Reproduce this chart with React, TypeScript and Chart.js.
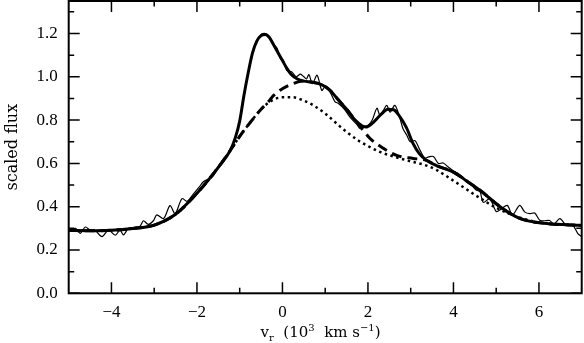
import React, { useEffect, useRef } from "react";
import { Chart, registerables } from "chart.js";

Chart.register(...registerables);

// ---- data ----
const obsX = [-5.0, -4.92, -4.84, -4.73, -4.61, -4.5, -4.38, -4.22, -4.07, -3.91, -3.8, -3.72, -3.6, -3.45, -3.33, -3.25, -3.14, -3.02, -2.94, -2.78, -2.63, -2.51, -2.35, -2.23, -2.1, -1.95, -1.85, -1.7, -1.61, -1.5, -1.4, -1.3, -1.2, -1.1, -1.0, -0.9, -0.8, -0.7, -0.6, -0.5, -0.4, -0.3, -0.2, -0.12, -0.05, 0.02, 0.1, 0.22, 0.32, 0.42, 0.5, 0.56, 0.62, 0.7, 0.81, 0.92, 1.0, 1.1, 1.23, 1.31, 1.45, 1.58, 1.74, 1.82, 1.9, 2.0, 2.1, 2.21, 2.28, 2.36, 2.44, 2.52, 2.63, 2.75, 2.82, 2.91, 2.99, 3.1, 3.22, 3.33, 3.42, 3.53, 3.65, 3.76, 3.88, 4.0, 4.1, 4.23, 4.31, 4.42, 4.54, 4.62, 4.7, 4.85, 5.0, 5.12, 5.26, 5.38, 5.55, 5.67, 5.79, 5.9, 6.02, 6.12, 6.25, 6.35, 6.49, 6.64, 6.78, 6.91, 7.0];
const obsY = [0.285, 0.295, 0.3, 0.277, 0.306, 0.292, 0.29, 0.262, 0.292, 0.268, 0.292, 0.27, 0.3, 0.305, 0.31, 0.335, 0.318, 0.335, 0.362, 0.345, 0.405, 0.368, 0.437, 0.425, 0.455, 0.49, 0.515, 0.53, 0.545, 0.585, 0.615, 0.64, 0.665, 0.72, 0.8, 0.915, 1.02, 1.11, 1.165, 1.195, 1.2, 1.185, 1.15, 1.13, 1.085, 1.076, 1.03, 1.022, 1.0, 1.012, 1.0, 0.99, 1.01, 0.968, 1.007, 0.937, 0.955, 0.935, 0.884, 0.877, 0.85, 0.814, 0.78, 0.76, 0.77, 0.775, 0.8, 0.855, 0.822, 0.845, 0.868, 0.837, 0.868, 0.807, 0.76, 0.73, 0.7, 0.705, 0.66, 0.625, 0.63, 0.632, 0.6, 0.602, 0.583, 0.565, 0.555, 0.535, 0.514, 0.5, 0.476, 0.47, 0.42, 0.437, 0.378, 0.39, 0.406, 0.362, 0.406, 0.375, 0.368, 0.371, 0.337, 0.335, 0.336, 0.32, 0.345, 0.314, 0.318, 0.276, 0.262];

const fitX = [-5, -4.5, -4, -3.5, -3, -2.5, -2, -1.5, -1.22, -1.1, -1.0, -0.9, -0.8, -0.7, -0.6, -0.5, -0.4, -0.3, -0.2, -0.1, 0, 0.1, 0.2, 0.35, 0.5, 0.7, 0.9, 1.1, 1.3, 1.5, 1.7, 1.85, 1.95, 2.1, 2.3, 2.47, 2.6, 2.75, 2.9, 3.06, 3.2, 3.37, 3.6, 4.0, 4.3, 4.62, 5.09, 5.55, 6.18, 7];
const fitY = [0.29, 0.289, 0.291, 0.299, 0.315, 0.365, 0.462, 0.582, 0.66, 0.72, 0.795, 0.915, 1.02, 1.11, 1.165, 1.19, 1.195, 1.18, 1.145, 1.11, 1.075, 1.04, 1.012, 0.99, 0.98, 0.975, 0.965, 0.94, 0.895, 0.85, 0.8, 0.775, 0.768, 0.785, 0.825, 0.85, 0.848, 0.815, 0.765, 0.69, 0.645, 0.614, 0.59, 0.56, 0.52, 0.476, 0.4, 0.346, 0.322, 0.314];

const dashX = [-5, -4.5, -4, -3.5, -3, -2.5, -2, -1.5, -1.22, -1.0, -0.75, -0.5, -0.35, -0.2, 0, 0.2, 0.5, 0.7, 0.9, 1.1, 1.3, 1.5, 1.7, 1.82, 2.05, 2.36, 2.67, 3.06, 3.37, 3.6, 4.0, 4.3, 4.62, 5.09, 5.55, 6.18, 7];
const dashY = [0.29, 0.289, 0.291, 0.299, 0.315, 0.365, 0.462, 0.582, 0.66, 0.725, 0.79, 0.85, 0.88, 0.915, 0.945, 0.965, 0.98, 0.975, 0.965, 0.94, 0.895, 0.85, 0.8, 0.77, 0.715, 0.67, 0.637, 0.623, 0.614, 0.59, 0.56, 0.52, 0.476, 0.4, 0.346, 0.322, 0.314];

const dotX = [-5, -4.5, -4, -3.5, -3, -2.5, -2, -1.5, -1.22, -1.0, -0.75, -0.5, -0.25, 0, 0.25, 0.5, 0.75, 1.0, 1.35, 1.5, 1.82, 2.0, 2.28, 2.5, 2.91, 3.37, 3.6, 4.0, 4.5, 4.78, 5.0, 5.4, 5.8, 6.2, 7];
const dotY = [0.29, 0.289, 0.291, 0.299, 0.315, 0.365, 0.462, 0.582, 0.66, 0.725, 0.79, 0.85, 0.89, 0.905, 0.905, 0.89, 0.865, 0.83, 0.77, 0.745, 0.7, 0.68, 0.653, 0.638, 0.614, 0.59, 0.57, 0.52, 0.455, 0.42, 0.395, 0.36, 0.335, 0.322, 0.313];

const xMajor = [-4, -2, 0, 2, 4, 6];
const xMinor = [-3, -1, 1, 3, 5];
const yMajor = [0, 0.2, 0.4, 0.6, 0.8, 1.0, 1.2];
const yMinor = [0.1, 0.3, 0.5, 0.7, 0.9, 1.1, 1.3];

const X_MIN = -5;
const X_MAX = 7;
const Y_MIN = 0;
const Y_MAX = 1.35;

const TICK_FONT = "Liberation Serif";
const TITLE_FONT = "DejaVu Serif";

const pts = (xs: number[], ys: number[]) => xs.map((x, i) => ({ x, y: ys[i] }));

const framePlugin = {
  id: "frame",
  afterDraw(chart: any) {
    const { ctx, chartArea } = chart;
    const { left, right, top, bottom } = chartArea;
    const xs = chart.scales.x;
    const ys = chart.scales.y;
    ctx.save();
    ctx.strokeStyle = "#000";
    ctx.lineWidth = 1.5;
    ctx.beginPath();
    const vt = (v: number, len: number) => {
      const px = xs.getPixelForValue(v);
      ctx.moveTo(px, bottom);
      ctx.lineTo(px, bottom - len);
      ctx.moveTo(px, top);
      ctx.lineTo(px, top + len);
    };
    const ht = (v: number, len: number) => {
      const py = ys.getPixelForValue(v);
      ctx.moveTo(left, py);
      ctx.lineTo(left + len, py);
      ctx.moveTo(right, py);
      ctx.lineTo(right - len, py);
    };
    xMajor.forEach((v) => vt(v, 11));
    xMinor.forEach((v) => vt(v, 5.5));
    yMajor.forEach((v) => ht(v, 11));
    yMinor.forEach((v) => ht(v, 5.5));
    ctx.stroke();
    ctx.lineWidth = 2;
    ctx.strokeRect(left, top, right - left, bottom - top);

    // y title
    ctx.fillStyle = "#000";
    ctx.save();
    ctx.translate(16.5, (top + bottom) / 2);
    ctx.rotate(-Math.PI / 2);
    ctx.font = `16px "${TITLE_FONT}"`;
    ctx.textAlign = "center";
    ctx.textBaseline = "alphabetic";
    ctx.fillText("scaled flux", 0, 0);
    ctx.restore();

    // x title: v_r (10^3 km s^-1)
    const big = `15px "${TITLE_FONT}"`;
    const small = `10px "${TITLE_FONT}"`;
    const parts: [string, string, number][] = [
      ["v", big, 0],
      ["r", small, 4],
      ["  (10", big, 0],
      ["3", small, -6],
      ["  km s", big, 0],
      ["\u22121", small, -6],
      [")", big, 0],
    ];
    let total = 0;
    parts.forEach(([t, f]) => {
      ctx.font = f;
      total += ctx.measureText(t).width;
    });
    let cx = 320.5 - total / 2;
    const baseY = 337;
    ctx.textAlign = "left";
    ctx.textBaseline = "alphabetic";
    parts.forEach(([t, f, dy]) => {
      ctx.font = f;
      ctx.fillText(t, cx, baseY + dy);
      cx += ctx.measureText(t).width;
    });
    ctx.restore();
  },
};

export default function App() {
  const ref = useRef<HTMLCanvasElement | null>(null);
  useEffect(() => {
    if (!ref.current) return;
    const chart = new Chart(ref.current, {
      type: "line",
      data: {
        datasets: [
          {
            label: "dotted",
            data: pts(dotX, dotY),
            borderColor: "#000",
            borderWidth: 2.5,
            borderDash: [2.5, 3.5],
            pointRadius: 0,
            cubicInterpolationMode: "monotone",
            fill: false,
          },
          {
            label: "dashed",
            data: pts(dashX, dashY),
            borderColor: "#000",
            borderWidth: 3,
            borderDash: [10, 6],
            pointRadius: 0,
            cubicInterpolationMode: "monotone",
            fill: false,
          },
          {
            label: "observed",
            data: pts(obsX, obsY),
            borderColor: "#000",
            borderWidth: 1.2,
            pointRadius: 0,
            tension: 0.3,
            fill: false,
          },
          {
            label: "model",
            data: pts(fitX, fitY),
            borderColor: "#000",
            borderWidth: 3,
            pointRadius: 0,
            cubicInterpolationMode: "monotone",
            fill: false,
          },
        ],
      },
      options: {
        responsive: false,
        animation: false,
        events: [],
        layout: { padding: { top: 1, right: 2.3, left: 0, bottom: 0 } },
        plugins: { legend: { display: false }, tooltip: { enabled: false } },
        scales: {
          x: {
            type: "linear",
            min: X_MIN,
            max: X_MAX,
            grid: { display: false, drawTicks: false },
            border: { display: false },
            afterBuildTicks: (s: any) => {
              s.ticks = xMajor.map((v) => ({ value: v }));
            },
            afterFit: (s: any) => {
              s.height = 49.7;
              s.paddingLeft = 0;
              s.paddingRight = 0;
              s.paddingTop = 0;
              s.paddingBottom = 0;
            },
            ticks: {
              color: "#000",
              padding: 9,
              maxRotation: 0,
              font: { family: TICK_FONT, size: 17 },
              callback: (v: any) => (Number(v) < 0 ? "\u2212" + Math.abs(Number(v)) : String(v)),
            },
          },
          y: {
            type: "linear",
            min: Y_MIN,
            max: Y_MAX,
            grid: { display: false, drawTicks: false },
            border: { display: false },
            afterBuildTicks: (s: any) => {
              s.ticks = yMajor.map((v) => ({ value: v }));
            },
            afterFit: (s: any) => {
              s.width = 68.7;
              s.paddingLeft = 0;
              s.paddingRight = 0;
              s.paddingTop = 0;
              s.paddingBottom = 0;
            },
            ticks: {
              color: "#000",
              padding: 11,
              font: { family: TICK_FONT, size: 17 },
              callback: (v: any) => Number(v).toFixed(1),
            },
          },
        },
      },
      plugins: [framePlugin],
    });
    return () => chart.destroy();
  }, []);
  return (
    <div style={{ position: "fixed", left: 0, top: 0, width: 584, height: 343, background: "#fff" }}>
      <canvas ref={ref} width={584} height={343} style={{ width: 584, height: 343, display: "block" }} />
    </div>
  );
}
